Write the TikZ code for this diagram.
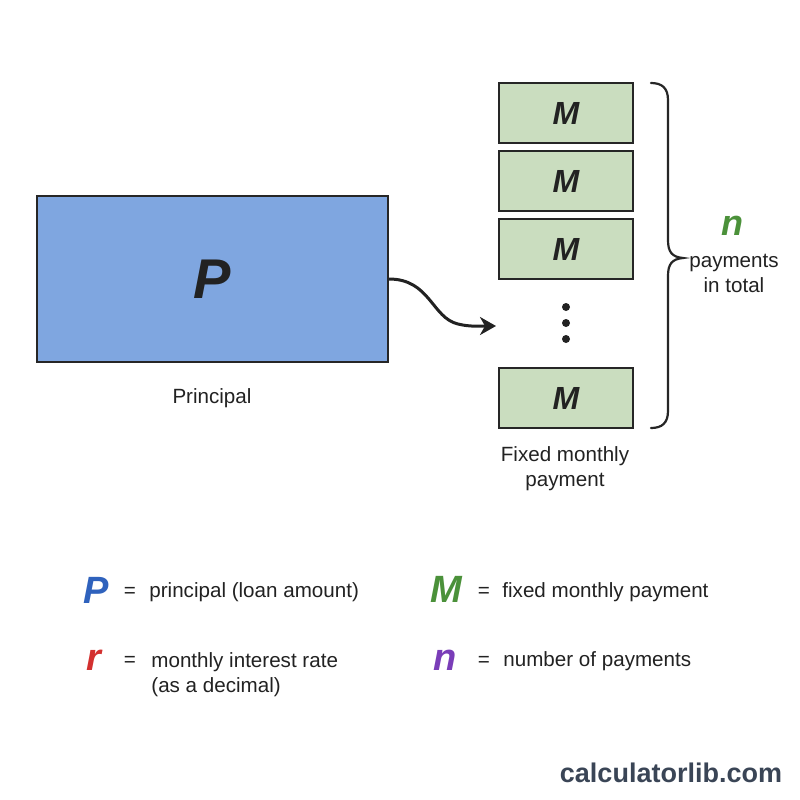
\documentclass[tikz,border=0pt]{standalone}
\usepackage{fontspec}
\setmainfont{Liberation Sans}
\usetikzlibrary{arrows.meta}
\definecolor{pfill}{HTML}{7FA6E0}
\definecolor{mfill}{HTML}{CADDBF}
\definecolor{edge}{HTML}{262626}
\definecolor{txt}{HTML}{222222}
\definecolor{cblue}{HTML}{2F62BD}
\definecolor{cgreen}{HTML}{4B913A}
\definecolor{cred}{HTML}{D3302F}
\definecolor{cpurple}{HTML}{7A3DB8}
\definecolor{brand}{HTML}{3A4556}
\begin{document}
\begin{tikzpicture}[x=0.5pt,y=-0.5pt,
  pbox/.style={draw=edge,line width=1pt,fill=pfill,minimum width=175.5pt,minimum height=83pt,inner sep=0pt,
    font=\fontsize{28}{30}\selectfont\bfseries\itshape,text=txt},
  mbox/.style={draw=edge,line width=1pt,fill=mfill,minimum width=67pt,minimum height=30pt,inner sep=0pt,
    font=\fontsize{16}{18}\selectfont\bfseries\itshape,text=txt},
  lbl/.style={font=\fontsize{10.3}{12.5}\selectfont,text=txt,align=center,inner sep=0pt},
  sym/.style={font=\fontsize{19}{20}\selectfont\bfseries\itshape,inner sep=0pt},
  eq/.style={font=\fontsize{10.3}{12}\selectfont,text=txt,inner sep=0pt},
  desc/.style={font=\fontsize{10.3}{12.5}\selectfont,text=txt,inner sep=0pt,anchor=west,align=left},
  dot/.style={circle,fill=txt,inner sep=0pt,minimum size=4pt},
  conn/.style={draw=txt,line width=1.5pt,-{Stealth[length=8pt,width=9pt,inset=2.5pt]}}
]
\useasboundingbox[fill=white] (0,0) rectangle (800,800);

% Principal box
\node[pbox] (P) at (212.5,279) {P};
\node[lbl] (plabel) at (212,398) {Principal};

% Payment boxes
\node[mbox] (M1) at (566,113) {M};
\node[mbox] (M2) at (566,181) {M};
\node[mbox] (M3) at (566,249) {M};
\node[dot] (d1) at (566,307) {};
\node[dot] (d2) at (566,323) {};
\node[dot] (d3) at (566,339) {};
\node[mbox] (M4) at (566,398) {M};
\node[lbl] (mlabel) at (565,469) {Fixed monthly\\payment};

% Arrow
\coordinate (aend) at (496,326);
\draw[conn] (P.east) .. controls (430,279) and (432,318) .. (458,324) .. controls (470,327) and (480,326) .. (aend);

% Brace
\draw[edge,line width=1.1pt,line cap=round]
  (651,83) .. controls (662,83) and (668,88) .. (668,100)
  -- (668,240) .. controls (668,252) and (672,257) .. (683,258)
  .. controls (672,259) and (668,264) .. (668,276)
  -- (668,411) .. controls (668,423) and (662,428) .. (651,428);
\node[sym,text=cgreen,font=\fontsize{18}{18}\selectfont\bfseries\itshape] (nn) at (732,226) {n};
\node[lbl] (ptotal) at (734,273) {payments\\in total};

% Legend
\node[sym,text=cblue] (lP) at (96,590) {P};
\node[eq] (e1) at (130,592) {=};
\node[desc] (t1) at (149,592) {principal (loan amount)};

\node[sym,text=cgreen] (lM) at (446,589) {M};
\node[eq] (e2) at (484,592) {=};
\node[desc] (t2) at (502,592) {fixed monthly payment};

\node[sym,text=cred] (lr) at (94,660) {r};
\node[eq] (e3) at (130,661) {=};
\node[desc] (t3) at (151,675) {monthly interest rate\\(as a decimal)};

\node[sym,text=cpurple] (ln) at (445,660) {n};
\node[eq] (e4) at (484,661) {=};
\node[desc] (t4) at (503,661) {number of payments};

% Brand
\node[font=\fontsize{13.5}{15}\selectfont\bfseries,text=brand,inner sep=0pt] (brand) at (671,773) {calculatorlib.com};
\end{tikzpicture}
\end{document}
